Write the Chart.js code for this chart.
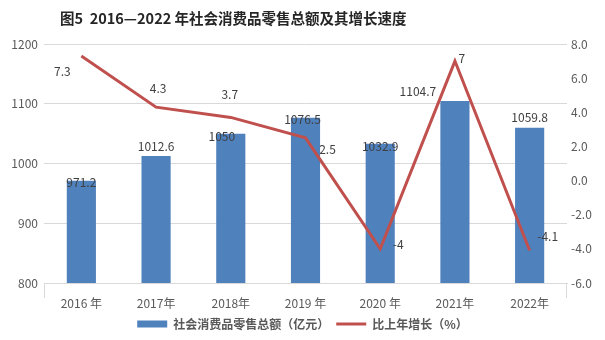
<!DOCTYPE html>
<html>
<head>
<meta charset="utf-8">
<script src="https://cdn.jsdelivr.net/npm/chart.js@4"></script>
<style>
  html, body { margin: 0; padding: 0; background: #fff; }
  #wrap { width: 605px; height: 340px; }
</style>
</head>
<body>
<div id="wrap"><canvas id="salesChart" width="605" height="340"></canvas></div>
<script>
const years = ['2016 年', '2017年', '2018年', '2019 年', '2020 年', '2021年', '2022年'];
const salesTotal = [971.2, 1012.6, 1050, 1076.5, 1032.9, 1104.7, 1059.8];
const growthRate = [7.3, 4.3, 3.7, 2.5, -4, 7, -4.1];
const salesLabel = '社会消费品零售总额（亿元）';
const growthLabel = '比上年增长（%）';
const titleText = '图5  2016—2022 年社会消费品零售总额及其增长速度';

const CJK = '"Noto Sans CJK SC", "Noto Sans", sans-serif';

// label offsets (px) from each mark
const barLabelShift = [[0, 2], [0, -10], [-9, 3], [-3, 2], [0, 3], [-37, -10], [0, -10]];
const lineLabelShift = [[-19, 15], [2, -19], [-1, -23], [22, 12], [18, -4], [7, -3], [18, -14]];

const valueLabels = {
  id: 'valueLabels',
  afterDatasetsDraw(chart) {
    const ctx = chart.ctx;
    ctx.save();
    ctx.font = '12px ' + CJK;
    ctx.fillStyle = '#404040';
    ctx.textAlign = 'center';
    ctx.textBaseline = 'bottom';
    chart.getDatasetMeta(0).data.forEach((bar, i) => {
      const [dx, dy] = barLabelShift[i];
      ctx.fillText(String(salesTotal[i]), bar.x + dx, bar.y + dy + 6);
    });
    ctx.textBaseline = 'middle';
    chart.getDatasetMeta(1).data.forEach((pt, i) => {
      const [dx, dy] = lineLabelShift[i];
      ctx.fillText(String(growthRate[i]), pt.x + dx, pt.y + dy);
    });
    ctx.restore();
  }
};

const frame = {
  id: 'frame',
  afterDraw(chart) {
    const ctx = chart.ctx;
    const a = chart.chartArea;
    ctx.save();
    // end ticks under the category axis
    ctx.strokeStyle = '#D9D9D9';
    ctx.lineWidth = 1;
    ctx.beginPath();
    ctx.moveTo(a.left + 0.5, a.bottom);
    ctx.lineTo(a.left + 0.5, a.bottom + 15);
    ctx.moveTo(a.right - 0.5, a.bottom);
    ctx.lineTo(a.right - 0.5, a.bottom + 15);
    ctx.stroke();
    // title
    ctx.font = 'bold 14.5px ' + CJK;
    ctx.fillStyle = '#262626';
    ctx.textAlign = 'left';
    ctx.textBaseline = 'middle';
    ctx.fillText(titleText, 60, 18);
    ctx.restore();
  }
};

const ctx = document.getElementById('salesChart').getContext('2d');
const salesChart = new Chart(ctx, {
  data: {
    labels: years,
    datasets: [{
      type: 'bar',
      label: salesLabel,
      data: salesTotal,
      backgroundColor: '#4F81BD',
      barPercentage: 0.39,
      categoryPercentage: 1,
      yAxisID: 'y',
      pointStyle: 'rect',
      order: 2,
    }, {
      type: 'line',
      label: growthLabel,
      data: growthRate,
      borderColor: '#C0504D',
      backgroundColor: '#C0504D',
      borderWidth: 3,
      pointRadius: 0,
      tension: 0,
      yAxisID: 'y1',
      pointStyle: 'line',
      order: 1,
    }]
  },
  options: {
    responsive: false,
    animation: false,
    layout: { padding: { top: 44, bottom: 0 } },
    plugins: {
      title: { display: false },
      tooltip: { enabled: false },
      legend: {
        position: 'bottom',
        labels: {
          usePointStyle: true,
          pointStyleWidth: 30,
          boxHeight: 7,
          padding: 7,
          color: '#595959',
          font: { family: CJK, size: 12, weight: 'bold' },
          sort: (a, b) => a.datasetIndex - b.datasetIndex,
        }
      }
    },
    scales: {
      x: {
        offset: true,
        grid: { display: false },
        border: { color: '#D9D9D9' },
        ticks: { color: '#595959', font: { family: CJK, size: 12 }, padding: 5 },
        afterFit: s => { s.height = 28; },
      },
      y: {
        position: 'left',
        min: 800,
        max: 1200,
        ticks: { stepSize: 100, color: '#595959', font: { family: CJK, size: 12 }, padding: 6,
          callback: v => String(v) },
        grid: { color: '#D9D9D9', drawTicks: false },
        border: { display: false },
        afterFit: s => { s.width = 44; },
      },
      y1: {
        position: 'right',
        min: -6,
        max: 8,
        ticks: { stepSize: 2, color: '#595959', font: { family: CJK, size: 12 }, padding: 4,
          callback: v => v.toFixed(1) },
        grid: { display: false, drawTicks: false },
        border: { display: false },
        afterFit: s => { s.width = 38; },
      }
    }
  },
  plugins: [valueLabels, frame]
});
</script>
</body>
</html>
